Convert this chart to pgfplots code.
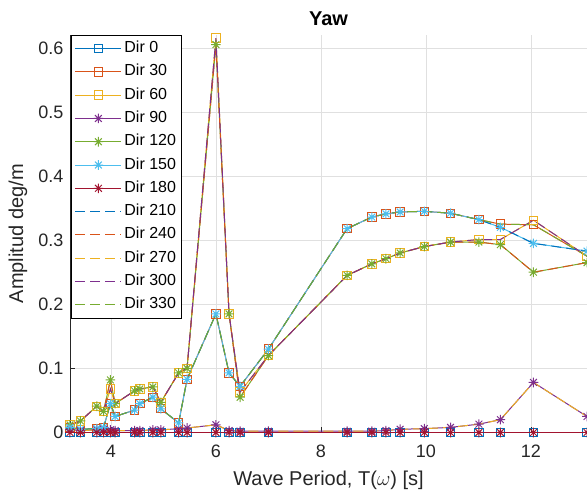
\documentclass[border=0pt]{standalone}
\usepackage{fontspec}
\setmainfont{Liberation Sans}
\usepackage{pgfplots}
\pgfplotsset{compat=1.18}
\usepackage{pgfplotstable}

\definecolor{m1}{rgb}{0,0.447,0.741}
\definecolor{m2}{rgb}{0.850,0.325,0.098}
\definecolor{m3}{rgb}{0.929,0.694,0.125}
\definecolor{m4}{rgb}{0.494,0.184,0.556}
\definecolor{m5}{rgb}{0.466,0.674,0.188}
\definecolor{m6}{rgb}{0.301,0.745,0.933}
\definecolor{m7}{rgb}{0.635,0.078,0.184}
\definecolor{axgray}{rgb}{0.15,0.15,0.15}

\pgfdeclareplotmark{mstar}{%
  \pgfpathmoveto{\pgfpoint{-\pgfplotmarksize}{0pt}}%
  \pgfpathlineto{\pgfpoint{\pgfplotmarksize}{0pt}}%
  \pgfpathmoveto{\pgfpoint{0pt}{-\pgfplotmarksize}}%
  \pgfpathlineto{\pgfpoint{0pt}{\pgfplotmarksize}}%
  \pgfpathmoveto{\pgfpoint{-0.707\pgfplotmarksize}{-0.707\pgfplotmarksize}}%
  \pgfpathlineto{\pgfpoint{0.707\pgfplotmarksize}{0.707\pgfplotmarksize}}%
  \pgfpathmoveto{\pgfpoint{-0.707\pgfplotmarksize}{0.707\pgfplotmarksize}}%
  \pgfpathlineto{\pgfpoint{0.707\pgfplotmarksize}{-0.707\pgfplotmarksize}}%
  \pgfusepathqstroke}

% T, zero (Dir 0/180), bA (Dir 60/300), bB (Dir 120/240), cA (Dir 30/330), cB (Dir 150/210), dd (Dir 90/270)
\pgfplotstableread{
T     zero  bA     bB     cA     cB     dd
3.22  0     0.012  0.012  0.008  0.008  0.005
3.42  0     0.018  0.018  0.005  0.005  0.003
3.73  0     0.041  0.041  0.006  0.006  0.004
3.86  0     0.033  0.033  0.008  0.008  0.005
3.99  0     0.068  0.082  0.045  0.045  0.004
4.08  0     0.045  0.045  0.025  0.025  0.003
4.45  0     0.065  0.065  0.035  0.035  0.003
4.55  0     0.068  0.068  0.045  0.045  0.003
4.80  0     0.071  0.071  0.055  0.055  0.004
4.95  0     0.047  0.047  0.037  0.037  0.004
5.29  0     0.093  0.093  0.015  0.015  0.006
5.45  0     0.100  0.100  0.083  0.083  0.007
6.00  0     0.615  0.605  0.185  0.185  0.012
6.25  0     0.185  0.185  0.093  0.093  0.003
6.46  0     0.063  0.055  0.072  0.072  0.002
7.00  0     0.120  0.120  0.130  0.130  0.002
8.50  0     0.245  0.245  0.318  0.318  0.002
8.97  0     0.263  0.263  0.336  0.336  0.002
9.24  0     0.271  0.271  0.341  0.341  0.003
9.51  0     0.280  0.280  0.344  0.344  0.005
9.97  0     0.290  0.290  0.345  0.345  0.006
10.47 0     0.297  0.297  0.342  0.342  0.008
11.01 0     0.301  0.297  0.332  0.332  0.013
11.42 0     0.301  0.293  0.325  0.320  0.020
12.05 0     0.331  0.250  0.324  0.295  0.078
13.07 0     0.275  0.265  0.275  0.283  0.025
}\data

\begin{document}
\begin{tikzpicture}
\begin{axis}[
  at={(0,0)}, anchor=south west,
  scale only axis, width=517pt, height=397.5pt,
  xmin=3.22, xmax=13.07, ymin=0, ymax=0.62,
  axis x line*=bottom, axis y line*=left,
  axis line style={draw=axgray, line width=0.8pt, -},
  xtick={4,6,8,10,12}, xticklabels={4,6,8,10,12},
  ytick={0,0.1,0.2,0.3,0.4,0.5,0.6}, yticklabels={0,0.1,0.2,0.3,0.4,0.5,0.6},
  tick align=inside, major tick length=5pt,
  tick style={draw=axgray, line width=0.6pt},
  grid=major, grid style={draw=black!12, line width=0.6pt},
  ticklabel style={font=\fontsize{18}{20}\selectfont, text=axgray},
  xticklabel style={yshift=-9pt},
  yticklabel style={xshift=-3pt},
  xlabel={Wave Period, T($\omega$) [s]}, ylabel={Amplitud deg/m},
  xlabel style={at={(axis description cs:0.5,-0.1195)}, anchor=center, font=\fontsize{20}{22}\selectfont, text=axgray},
  ylabel style={at={(axis description cs:-0.1006,0.5)}, rotate=0, anchor=center, font=\fontsize{20}{22}\selectfont, text=axgray},
  title={Yaw},
  title style={at={(axis description cs:0.5,1)}, anchor=base, yshift=3pt, font=\bfseries\fontsize{20}{22}\selectfont, text=black},
  clip=false,
  every axis plot/.append style={line width=1.0pt},
  legend style={at={(axis description cs:0,1)}, anchor=north west, xshift=1.5pt,
    draw=black, line width=0.8pt, fill=white,
    font=\fontsize{16}{18}\selectfont, inner xsep=3pt, inner ysep=1.5pt, row sep=0pt,
    nodes={inner xsep=2.5pt, inner ysep=4.15pt, text height=11.5pt, text depth=3.5pt, text=black}},
  legend cell align=left,
  legend image code/.code={\draw[mark repeat=2, mark phase=2, #1] plot coordinates {(0pt,0pt) (23pt,0pt) (46pt,0pt)};},
]
\addplot[m1, mark=square, mark size=4.2pt] table[x=T, y=zero] {\data};
\addlegendentry{Dir 0}
\addplot[m2, mark=square, mark size=4.2pt] table[x=T, y=cA] {\data};
\addlegendentry{Dir 30}
\addplot[m3, mark=square, mark size=4.2pt] table[x=T, y=bA] {\data};
\addlegendentry{Dir 60}
\addplot[m4, mark=mstar, mark size=4.8pt] table[x=T, y=dd] {\data};
\addlegendentry{Dir 90}
\addplot[m5, mark=mstar, mark size=4.8pt] table[x=T, y=bB] {\data};
\addlegendentry{Dir 120}
\addplot[m6, mark=mstar, mark size=4.8pt] table[x=T, y=cB] {\data};
\addlegendentry{Dir 150}
\addplot[m7, mark=mstar, mark size=4.8pt] table[x=T, y=zero] {\data};
\addlegendentry{Dir 180}
\addplot[m1, dash pattern=on 10pt off 5pt] table[x=T, y=cB] {\data};
\addlegendentry{Dir 210}
\addplot[m2, dash pattern=on 10pt off 5pt] table[x=T, y=bB] {\data};
\addlegendentry{Dir 240}
\addplot[m3, dash pattern=on 10pt off 5pt] table[x=T, y=dd] {\data};
\addlegendentry{Dir 270}
\addplot[m4, dash pattern=on 10pt off 5pt] table[x=T, y=bA] {\data};
\addlegendentry{Dir 300}
\addplot[m5, dash pattern=on 10pt off 5pt] table[x=T, y=cA] {\data};
\addlegendentry{Dir 330}
\end{axis}
\pgfresetboundingbox
\path[use as bounding box] (-70pt,-67.5pt) rectangle (517pt,432.5pt);
\end{tikzpicture}
\end{document}
